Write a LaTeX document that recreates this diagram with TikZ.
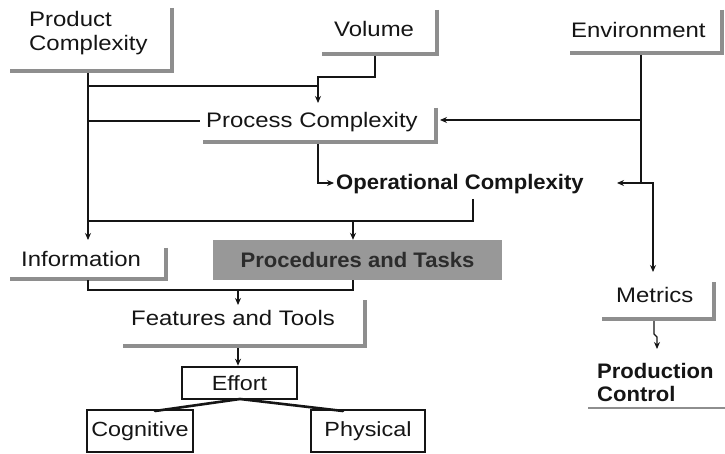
\documentclass[tikz,border=0pt]{standalone}
\usepackage{fontspec}
\setmainfont{Liberation Sans}[FakeStretch=1.14]
\newfontfamily\heavylabel{Liberation Sans}[FakeStretch=1.05]
\usetikzlibrary{arrows.meta}
\definecolor{shade}{HTML}{8E8E8E}
\definecolor{boxgray}{HTML}{989898}
\definecolor{ink}{HTML}{151515}
\tikzset{
  lbl/.style={font=\fontsize{21}{23}\selectfont, text=ink, inner sep=0pt, anchor=base west},
  blbl/.style={font=\heavylabel\bfseries\fontsize{21}{23}\selectfont, text=ink, inner sep=0pt, anchor=base west},
  bar/.style={draw=shade, line width=4pt},
  wire/.style={draw=ink, line width=1.1pt},
  arr/.style={wire, -{Stealth[length=7pt,width=6pt]}},
  framed/.style={draw=ink, line width=2pt, inner sep=0pt, font=\fontsize{20.5}{22}\selectfont, text=ink},
  fork/.style={draw=ink, line width=2.6pt, line cap=round}
}
\begin{document}
\begin{tikzpicture}[x=1pt,y=-1pt]
\useasboundingbox (0,0) rectangle (725,454);

% ---- labels ----
\node[lbl] (prodA) at (29,27) {Product};
\node[lbl] (prodB) at (29,51) {Complexity};
\node[lbl] (volume) at (334,37) {Volume};
\node[lbl] (env) at (571,38) {Environment};
\node[lbl] (process) at (206,128) {Process Complexity};
\node[blbl] (oper) at (336,190) {Operational Complexity};
\node[lbl] (info) at (21,266) {Information};
\node[fill=boxgray, minimum width=289pt, minimum height=40pt, inner sep=0pt,
      font=\heavylabel\bfseries\fontsize{21}{23}\selectfont, text=ink!90] (proc) at (357.5,260) {Procedures and Tasks};
\node[lbl] (feat) at (131,325) {Features and Tools};
\node[framed, line width=2.6pt, minimum width=115pt, minimum height=32pt] (effort) at (239.5,383) {Effort};
\node[framed, minimum width=106pt, minimum height=42pt] (cog) at (140,431) {Cognitive};
\node[framed, minimum width=114pt, minimum height=42pt] (phys) at (368,431) {Physical};
\node[lbl] (metrics) at (616,302) {Metrics};
\node[blbl] (prodctlA) at (597,378) {Production};
\node[blbl] (prodctlB) at (597,401) {Control};

% ---- drop-shadow bars ----
\draw[bar] (172,8) -- (172,71) -- (10,71);
\draw[bar] (437,10) -- (437,54) -- (322,54);
\draw[bar] (722,10) -- (722,53) -- (570,53);
\draw[bar] (436,108) -- (436,142) -- (203,142);
\draw[bar] (166,248) -- (166,279) -- (10,279);
\draw[bar] (365,300) -- (365,346) -- (123,346);
\draw[bar] (714,282) -- (714,319) -- (602,319);
\draw[draw=shade, line width=2pt] (588,408) -- (725,408);

% ---- junction points ----
\coordinate (pcTop) at (88,73);
\coordinate (pcJoin) at (88,86);
\coordinate (pcProc) at (88,121);
\coordinate (pcOper) at (88,221);
\coordinate (volDrop) at (375,56);
\coordinate (volStep) at (375,77);
\coordinate (merge) at (318,77);
\coordinate (procDrop) at (318,144);
\coordinate (envDrop) at (641,55);
\coordinate (envMid) at (641,120);
\coordinate (envLow) at (641,183);
\coordinate (envJog) at (653,183);
\coordinate (operStub) at (473,199);
\coordinate (operBus) at (473,221);
\coordinate (infoLow) at (88,280);
\coordinate (infoBus) at (88,290);
\coordinate (procBus) at (353,290);
\coordinate (featDrop) at (238,290);
\coordinate (featLow) at (238,348);
\coordinate (fanOut) at (240,399);
\coordinate (metLow) at (654,321);
\coordinate (metJog) at (654,334);
\coordinate (metJog2) at (657,337);

% ---- connectors ----
\draw[arr] (pcTop) -- (88,240);
\draw[wire] (pcJoin) -- (merge |- pcJoin);
\draw[arr] (volDrop) -- (volStep) -- (merge) -- (318,103);
\draw[wire] (pcProc) -- (200,121);
\draw[arr] (envDrop) -- (envLow) -- (envJog) -- (653,272);
\draw[arr] (envMid) -- (440,120);
\draw[arr] (envLow) -- (617,183);
\draw[arr] (procDrop) -- (318,183) -- (334,183);
\draw[wire] (operStub) -- (operBus) -- (pcOper);
\draw[arr] (353,221) -- (proc.north -| 353,0);
\draw[wire] (infoLow) -- (infoBus) -- (procBus) -- (proc.south -| procBus);
\draw[arr] (featDrop) -- (238,305);
\draw[arr] (featLow) -- (effort.north -| featLow);
\draw[fork] (fanOut) -- (155,411);
\draw[fork] (fanOut) -- (343,411);
\draw[arr] (metLow) -- (metJog) -- (metJog2) -- (657,349);
\end{tikzpicture}
\end{document}
